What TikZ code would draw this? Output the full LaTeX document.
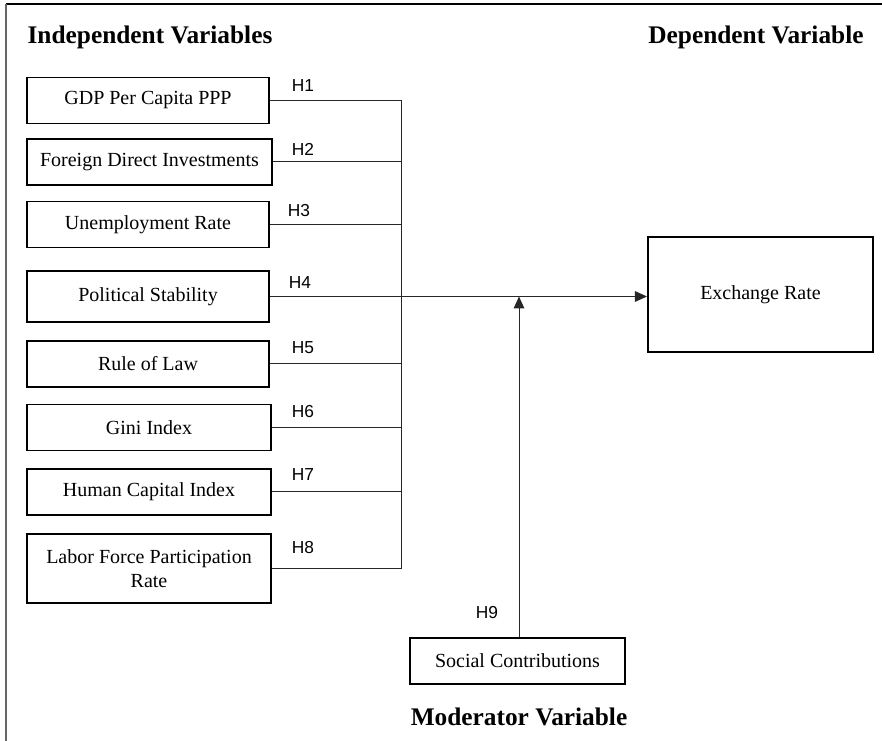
\documentclass[tikz,border=0pt]{standalone}
\usepackage{fontspec}
\setmainfont{Liberation Serif}
\newfontfamily\hypfont{Liberation Sans}
\usetikzlibrary{arrows.meta}

\begin{document}
\begin{tikzpicture}[
  x=0.75pt, y=-0.75pt,
  font=\fontsize{15}{18}\selectfont,
  varbox/.style={
    rectangle, draw=black, line width=1.3pt, fill=white,
    minimum width=182pt, minimum height=34.5pt, align=center,
    inner sep=2pt
  },
  hdr/.style={font=\fontsize{19}{22}\selectfont\bfseries},
  hyp/.style={font=\fontsize{13}{15}\selectfont\hypfont, inner sep=1pt},
  link/.style={draw=black!85, line width=0.75pt},
  arr/.style={link, -{Triangle[length=9pt, width=8pt]}},
]
\useasboundingbox (0,0) rectangle (882,741);

% Frame
\draw[black, line width=1.2pt] (6,4) -- (882,4);
\draw[black!60, line width=1.2pt] (6,4) -- (6,741);

% Headings
\node[hdr] (indep) at (150,37) {Independent Variables};
\node[hdr] (dep) at (756,37) {Dependent Variable};
\node[hdr] (moder) at (519,717) {Moderator Variable};

% Independent variables (left column)
\node[varbox] (gdp) at (148,100.5) {GDP Per Capita PPP};
\node[varbox, minimum width=184pt] (fdi) at (149.5,162) {Foreign Direct Investments};
\node[varbox] (unemp) at (148,224.5) {Unemployment Rate};
\node[varbox, minimum height=38pt] (polstab) at (148,296.5) {Political Stability};
\node[varbox] (rol) at (148,364) {Rule of Law};
\node[varbox, minimum width=183pt] (gini) at (149,427.5) {Gini Index};
\node[varbox, minimum width=183pt] (hci) at (149,492) {Human Capital Index};
\node[varbox, minimum width=183pt, minimum height=52pt] (lfpr) at (149,568.5) {Labor Force Participation\\Rate};

% Dependent and moderator variables
\node[varbox, minimum width=169pt, minimum height=86pt] (exrate) at (760.5,294.5) {Exchange Rate};
\node[varbox, minimum width=161pt] (social) at (517.5,661) {Social Contributions};

% Collecting line
\coordinate (bus) at (401,99);
\draw[link] (gdp.east) -- (gdp.east -| bus);
\draw[link] (fdi.east) -- (fdi.east -| bus);
\draw[link] (unemp.east) -- (unemp.east -| bus);
\draw[link] (rol.east) -- (rol.east -| bus);
\draw[link] (gini.east) -- (gini.east -| bus);
\draw[link] (hci.east) -- (hci.east -| bus);
\draw[link] (lfpr.east) -- (lfpr.east -| bus);
\draw[link] (gdp.east -| bus) -- (lfpr.east -| bus);

% Main path and moderation
\draw[arr] (polstab.east) -- (polstab.east -| exrate.west);
\draw[arr] (social.north -| moder) -- (moder |- polstab.east);

% Hypothesis labels
\node[hyp] (h1) at (303,86) {H1};
\node[hyp] (h2) at (303,149) {H2};
\node[hyp] (h3) at (299,211) {H3};
\node[hyp] (h4) at (300,283) {H4};
\node[hyp] (h5) at (303,348) {H5};
\node[hyp] (h6) at (303,412) {H6};
\node[hyp] (h7) at (303,475) {H7};
\node[hyp] (h8) at (303,548) {H8};
\node[hyp] (h9) at (487,613) {H9};

\end{tikzpicture}
\end{document}
